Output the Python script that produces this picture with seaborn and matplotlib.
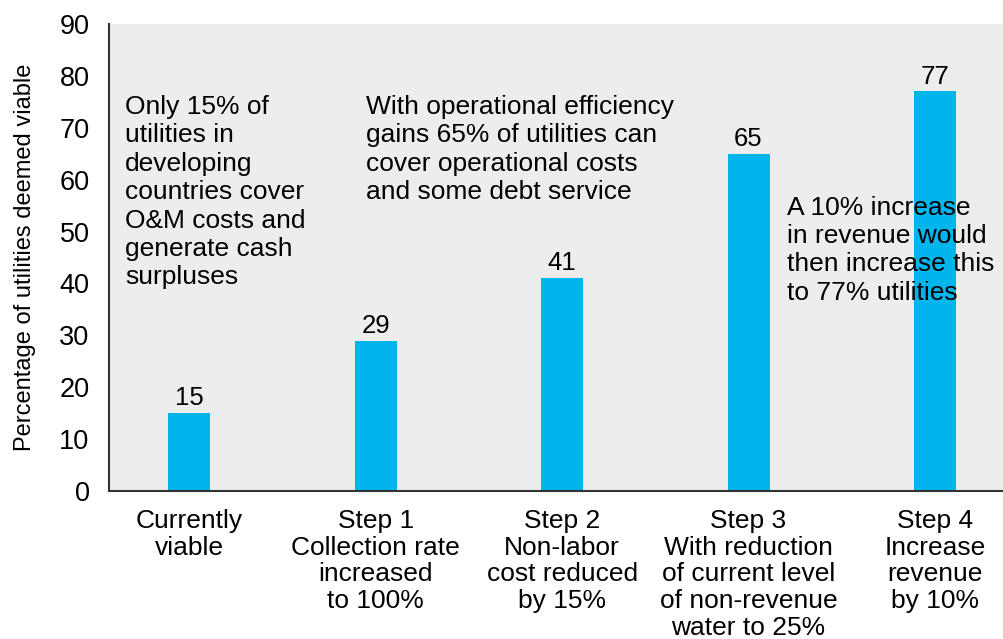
import numpy as np
import matplotlib
matplotlib.use("Agg")
import matplotlib.pyplot as plt
import seaborn as sns

# data
categories = [
    "Currently\nviable",
    "Step 1\nCollection rate\nincreased\nto 100%",
    "Step 2\nNon-labor\ncost reduced\nby 15%",
    "Step 3\nWith reduction\nof current level\nof non-revenue\nwater to 25%",
    "Step 4\nIncrease\nrevenue\nby 10%",
]
values = [15, 29, 41, 65, 77]
y_ticks = [0, 10, 20, 30, 40, 50, 60, 70, 80, 90]

note_start = "Only 15% of\nutilities in\ndeveloping\ncountries cover\nO&M costs and\ngenerate cash\nsurpluses"
note_middle = "With operational efficiency\ngains 65% of utilities can\ncover operational costs\nand some debt service"
note_end = "A 10% increase\nin revenue would\nthen increase this\nto 77% utilities"

BAR_COLOR = "#00B5EC"
BG = "#EDEDED"

sns.set_style("white")
plt.rcParams["font.family"] = ["Liberation Sans", "DejaVu Sans"]
plt.rcParams["text.color"] = "black"
plt.rcParams["axes.labelcolor"] = "black"
plt.rcParams["xtick.color"] = "black"
plt.rcParams["ytick.color"] = "black"

fig = plt.figure(figsize=(10.04, 6.39), dpi=100)
ax = fig.add_axes([109 / 1004, 148 / 639, 895 / 1004, 467 / 639])
ax.set_facecolor(BG)

sns.barplot(x=list(range(len(values))), y=values, color=BAR_COLOR,
            width=0.225, saturation=1, linewidth=0, edgecolor="none", ax=ax)

ax.bar_label(ax.containers[0], padding=2, fontsize=18.5)

# plot area runs past the right edge of the figure, like the source
ax.set_xlim(-0.43, 4.37)
ax.set_ylim(0, 90)
ax.set_yticks(y_ticks)
ax.tick_params(axis="y", direction="out", length=8, width=1.2,
               labelsize=19.5, pad=6, color="#333333")

ax.set_xticks(range(len(categories)))
ax.set_xticklabels(categories, fontsize=19, linespacing=1.14)
ax.tick_params(axis="x", which="major", length=0, pad=13)
# separators between categories
ax.set_xticks([-0.43, 0.53, 1.53, 2.53, 3.53], minor=True)
ax.tick_params(axis="x", which="minor", direction="out", length=8,
               width=1.2, color="#333333")

ax.set_xlabel("")
ax.set_ylabel("Percentage of utilities deemed viable", fontsize=17)
ax.yaxis.set_label_coords(-0.082, 0.5)

for side in ["top", "right"]:
    ax.spines[side].set_visible(False)
for side in ["left", "bottom"]:
    ax.spines[side].set_color("#333333")
    ax.spines[side].set_linewidth(1.5)

note_kw = dict(fontsize=19, va="top", ha="left", linespacing=1.23)
ax.text(-0.344, 76.3, note_start, **note_kw)
ax.text(0.947, 76.3, note_middle, **note_kw)
ax.text(3.204, 56.9, note_end, **note_kw)

fig.savefig("out.png", dpi=100)
